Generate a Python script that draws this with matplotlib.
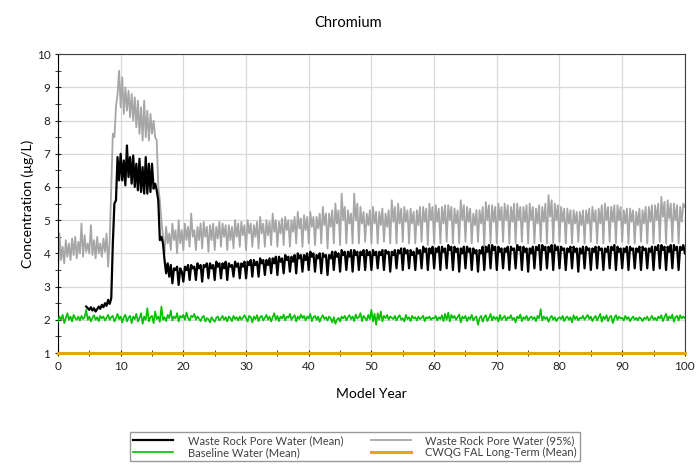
import numpy as np
import matplotlib.pyplot as plt
from matplotlib.ticker import MultipleLocator

plt.rcParams['font.family'] = ['Lato', 'DejaVu Sans']

nan = np.nan

# quarter-year steps, year 0 to 100
years = np.arange(0, 100.01, 0.25)

wr_mean = [
    nan, nan, nan, nan, nan, nan, nan, nan, nan, nan, nan, nan, nan, nan, nan, nan, nan, nan,
    2.40, 2.35, 2.30, 2.38, 2.28, 2.35, 2.25, 2.32, 2.40, 2.33, 2.45, 2.38, 2.50, 2.42, 2.60, 2.48,
    2.65, 4.30, 5.50, 5.60, 6.90, 6.20,
    7.00, 6.20, 6.80, 6.05, 7.25, 6.30, 6.90, 6.10, 6.95, 6.00, 6.70, 5.90, 6.85, 5.85, 6.60, 5.80,
    6.90, 5.80, 6.70, 5.85, 6.70, 5.95, 6.10, 5.90, 5.60, 4.40, 4.50, 4.30, 3.80, 3.40, 3.70, 3.30,
    3.65, 3.10, 3.55, 3.50, 3.60, 3.05, 3.55, 3.45,
    3.15, 3.60, 3.50, 3.65, 3.20, 3.65, 3.55, 3.60, 3.20, 3.70, 3.55, 3.65, 3.15, 3.65, 3.60, 3.70,
    3.25, 3.70, 3.55, 3.65, 3.20, 3.75, 3.60, 3.70, 3.25, 3.70, 3.55, 3.75, 3.20, 3.70, 3.60, 3.65,
    3.30, 3.75, 3.60, 3.70, 3.25, 3.70, 3.60, 3.75,
    3.25, 3.75, 3.65, 3.80, 3.30, 3.80, 3.65, 3.75, 3.30, 3.85, 3.70, 3.80, 3.35, 3.80, 3.65, 3.85,
    3.40, 3.85, 3.70, 3.90, 3.35, 3.90, 3.75, 3.85, 3.40, 3.95, 3.80, 3.90, 3.45, 3.90, 3.75, 3.95,
    3.40, 4.00, 3.85, 3.95, 3.45, 3.95, 3.80, 4.00,
    3.50, 4.05, 3.90, 4.00, 3.45, 3.95, 3.85, 4.00, 3.40, 4.00, 3.90, 3.95, 3.35, 3.95, 3.85, 4.05,
    3.50, 4.05, 3.90, 4.00, 3.45, 4.10, 3.95, 4.05, 3.50, 4.05, 3.90, 4.10, 3.45, 4.10, 3.95, 4.05,
    3.50, 4.05, 3.95, 4.10, 3.50, 4.10, 3.95, 4.05,
    3.50, 4.10, 3.95, 4.05, 3.55, 4.05, 3.95, 4.10, 3.50, 4.10, 4.00, 4.05, 3.45, 4.05, 3.95, 4.10,
    3.55, 4.10, 4.00, 4.15, 3.50, 4.15, 4.00, 4.10, 3.55, 4.10, 3.95, 4.05, 3.50, 4.15, 4.00, 4.10,
    3.55, 4.20, 4.05, 4.15, 3.50, 4.15, 4.00, 4.20,
    3.55, 4.15, 4.05, 4.20, 3.50, 4.20, 4.05, 4.15, 3.55, 4.25, 4.10, 4.20, 3.50, 4.20, 4.05, 4.15,
    3.45, 4.15, 4.00, 4.20, 3.55, 4.20, 4.05, 4.15, 3.50, 4.15, 4.00, 4.10, 3.45, 4.10, 4.00, 4.20,
    3.50, 4.20, 4.05, 4.25, 3.55, 4.25, 4.10, 4.20,
    3.50, 4.20, 4.05, 4.15, 3.55, 4.15, 4.05, 4.20, 3.50, 4.20, 4.10, 4.15, 3.55, 4.25, 4.10, 4.20,
    3.50, 4.20, 4.05, 4.15, 3.45, 4.15, 4.00, 4.20, 3.55, 4.20, 4.10, 4.25, 3.50, 4.25, 4.10, 4.20,
    3.55, 4.20, 4.05, 4.25, 3.50, 4.25, 4.10, 4.20,
    3.55, 4.20, 4.10, 4.15, 3.50, 4.15, 4.05, 4.20, 3.55, 4.20, 4.05, 4.15, 3.45, 4.15, 4.00, 4.20,
    3.55, 4.20, 4.10, 4.15, 3.50, 4.15, 4.05, 4.20, 3.55, 4.20, 4.10, 4.15, 3.50, 4.15, 4.05, 4.20,
    3.55, 4.20, 4.10, 4.25, 3.50, 4.20, 4.05, 4.15,
    3.55, 4.15, 4.05, 4.20, 3.50, 4.20, 4.10, 4.15, 3.55, 4.15, 4.05, 4.20, 3.50, 4.20, 4.10, 4.15,
    3.55, 4.15, 4.05, 4.20, 3.50, 4.20, 4.10, 4.25, 3.55, 4.25, 4.10, 4.20, 3.50, 4.20, 4.05, 4.25,
    3.55, 4.25, 4.10, 4.20, 3.50, 4.20, 4.10, 4.25,
    4.00,
]

wr_95 = [
    3.40, 4.60, 3.80, 4.20, 3.70, 4.40, 3.90, 4.30, 3.80, 4.45, 3.95, 4.50, 3.85, 4.35, 4.00, 4.90,
    3.90, 4.55, 4.05, 4.30, 4.00, 4.85, 3.95, 4.40, 3.85, 4.50, 4.00, 4.30, 3.90, 4.45, 4.05, 4.60,
    3.60, 4.40, 6.00, 7.60, 7.50, 8.40, 8.80, 9.50,
    8.40, 9.30, 8.20, 9.00, 8.30, 8.90, 8.10, 8.80, 8.00, 8.70, 7.80, 8.60, 7.60, 8.40, 7.40, 8.60,
    7.50, 8.30, 7.40, 8.20, 7.60, 8.00, 7.50, 7.40, 6.00, 5.60, 5.00, 4.50, 4.00, 4.80, 4.30, 4.60,
    4.10, 4.90, 4.40, 4.70, 4.00, 5.00, 4.30, 4.70,
    4.10, 4.90, 4.40, 4.80, 4.20, 5.20, 4.50, 4.70, 4.10, 4.80, 4.40, 4.90, 4.15, 4.95, 4.50, 4.80,
    4.05, 4.85, 4.40, 4.90, 4.10, 4.80, 4.45, 4.95, 4.20, 4.90, 4.50, 4.85, 4.10, 4.85, 4.40, 4.80,
    4.15, 5.00, 4.50, 4.90, 4.20, 4.95, 4.55, 4.85,
    4.10, 5.00, 4.60, 4.90, 4.20, 4.85, 4.50, 4.95, 4.15, 5.10, 4.60, 4.90, 4.20, 5.00, 4.55, 4.95,
    4.25, 5.20, 4.65, 5.00, 4.20, 4.95, 4.60, 5.05, 4.25, 5.10, 4.70, 5.00, 4.20, 5.00, 4.65, 5.10,
    4.30, 5.25, 4.75, 5.05, 4.20, 5.15, 4.70, 5.10,
    4.30, 5.25, 4.80, 5.10, 4.25, 5.10, 4.75, 5.20, 4.30, 5.40, 4.85, 5.20, 4.15, 5.20, 4.80, 5.30,
    4.30, 5.50, 4.90, 5.30, 4.25, 5.80, 5.00, 5.40, 4.30, 5.30, 4.90, 5.20, 4.30, 5.80, 5.00, 5.50,
    4.30, 5.40, 4.90, 5.25, 4.35, 5.20, 4.85, 5.30,
    4.30, 5.40, 4.90, 5.25, 4.30, 5.25, 4.85, 5.35, 4.35, 5.20, 4.80, 5.30, 4.30, 5.60, 4.95, 5.40,
    4.30, 5.50, 4.90, 5.35, 4.35, 5.40, 4.95, 5.30, 4.30, 5.35, 4.90, 5.25, 4.30, 5.30, 4.85, 5.40,
    4.35, 5.40, 4.95, 5.35, 4.25, 5.50, 5.00, 5.40,
    4.30, 5.45, 4.95, 5.35, 4.30, 5.40, 4.90, 5.45, 4.35, 5.45, 5.00, 5.40, 4.30, 5.35, 4.90, 5.30,
    4.30, 5.60, 5.00, 5.45, 4.35, 5.40, 4.95, 5.35, 4.30, 5.20, 4.85, 5.30, 4.35, 5.30, 4.90, 5.40,
    4.20, 5.55, 5.00, 5.45, 4.30, 5.45, 4.95, 5.40,
    4.30, 5.50, 5.00, 5.40, 4.35, 5.50, 5.00, 5.45, 4.30, 5.40, 4.95, 5.50, 4.30, 5.50, 5.00, 5.40,
    4.35, 5.40, 4.95, 5.45, 4.30, 5.50, 5.00, 5.40, 4.30, 5.35, 4.90, 5.45, 4.35, 5.40, 4.95, 5.50,
    4.30, 5.75, 5.10, 5.60, 4.30, 5.50, 5.00, 5.45,
    4.35, 5.40, 4.95, 5.35, 4.30, 5.35, 4.90, 5.30, 4.30, 5.30, 4.90, 5.25, 4.35, 5.25, 4.85, 5.30,
    4.30, 5.30, 4.90, 5.35, 4.35, 5.40, 4.95, 5.30, 4.30, 5.35, 4.90, 5.45, 4.30, 5.50, 5.00, 5.40,
    4.35, 5.40, 4.95, 5.45, 4.30, 5.45, 5.00, 5.40,
    4.35, 5.30, 4.90, 5.35, 4.30, 5.35, 4.95, 5.30, 4.30, 5.25, 4.85, 5.35, 4.35, 5.30, 4.90, 5.40,
    4.30, 5.40, 4.95, 5.45, 4.30, 5.45, 5.00, 5.50, 4.35, 5.70, 5.10, 5.55, 4.30, 5.60, 5.05, 5.50,
    4.35, 5.50, 5.00, 5.45, 4.30, 5.40, 4.95, 5.50,
    5.40,
]

baseline = [
    1.95, 2.10, 2.00, 2.15, 1.90, 2.05, 2.20, 2.00, 2.10, 1.95, 2.15, 2.05, 2.00, 2.10, 1.98, 2.12, 2.02, 2.08, 2.30, 2.00,
    2.10, 1.95, 2.06, 2.14, 2.00, 2.08, 1.96, 2.12, 2.04, 2.10, 1.98, 2.06, 2.15, 2.00, 2.08, 2.12, 1.95, 2.05, 2.18, 2.02,
    2.10, 1.92, 2.08, 2.15, 1.95, 2.06, 2.12, 1.90, 2.10, 2.02, 2.18, 1.95, 2.05, 2.20, 1.88, 2.10, 2.00, 2.35, 1.95, 2.08,
    2.12, 1.90, 2.25, 2.02, 2.10, 1.94, 2.40, 2.00, 2.08, 1.96, 2.15, 2.05, 2.28, 1.98, 2.10, 2.04, 2.20, 1.95, 2.12, 2.06,
    2.15, 2.00, 2.22, 2.05, 1.98, 2.12, 2.08, 2.18, 2.00, 2.10, 2.04, 1.96, 2.08, 2.12, 1.95, 2.05, 2.02, 1.92, 2.08, 2.00,
    1.94, 2.06, 2.10, 1.98, 2.04, 2.12, 2.00, 2.08, 1.95, 2.10, 2.05, 1.96, 2.12, 2.02, 2.08, 1.98, 2.10, 2.00, 2.06, 2.14,
    2.05, 1.95, 2.12, 2.08, 1.92, 2.10, 2.02, 2.14, 1.96, 2.08, 2.12, 1.98, 2.06, 2.15, 2.00, 2.10, 1.95, 2.08, 2.20, 2.00,
    2.12, 1.96, 2.10, 2.04, 2.16, 1.98, 2.10, 2.06, 2.18, 2.00, 2.08, 2.14, 1.95, 2.10, 2.02, 2.16, 2.05, 2.12, 1.98, 2.10,
    2.04, 2.18, 1.96, 2.08, 2.12, 2.00, 2.10, 1.94, 2.06, 2.14, 2.02, 2.08, 1.98, 2.10, 2.04, 1.92, 2.08, 1.88, 2.00, 2.06,
    1.95, 2.10, 2.04, 2.12, 1.98, 2.08, 2.14, 2.02, 2.10, 1.96, 2.16, 2.04, 2.08, 2.20, 1.96, 2.12, 2.05, 1.98, 2.15, 2.02,
    2.30, 1.95, 2.18, 1.85, 2.20, 2.00, 2.25, 1.95, 2.12, 2.05, 2.15, 2.00, 2.10, 2.06, 2.02, 2.12, 1.98, 2.08, 2.14, 2.00,
    2.05, 1.95, 2.15, 2.02, 2.08, 1.96, 2.12, 2.04, 2.08, 1.98, 2.10, 2.02, 2.06, 2.12, 1.96, 2.08, 2.04, 2.10, 2.00, 2.06,
    2.04, 2.12, 1.98, 2.08, 2.02, 2.14, 1.96, 2.18, 2.00, 2.22, 1.95, 2.15, 2.05, 2.12, 2.00, 2.08, 2.16, 1.92, 2.10, 2.04,
    2.12, 1.96, 2.08, 2.02, 2.15, 1.98, 2.06, 2.10, 1.85, 2.05, 2.12, 1.94, 2.08, 2.14, 1.96, 2.06, 2.18, 1.98, 2.10, 2.02,
    2.08, 1.95, 2.15, 2.00, 2.06, 2.12, 1.98, 2.08, 2.04, 2.14, 2.00, 2.06, 1.92, 2.10, 2.04, 2.16, 1.96, 2.08, 2.02, 2.12,
    1.98, 2.06, 2.10, 2.02, 2.08, 1.96, 2.12, 2.04, 2.32, 1.98, 2.10, 2.02, 2.08, 1.94, 2.06, 2.12, 2.00, 2.08, 1.96, 2.04,
    2.08, 2.02, 2.12, 1.96, 2.06, 2.10, 2.00, 2.08, 1.92, 2.14, 2.02, 2.10, 1.98, 2.06, 2.04, 2.12, 2.00, 2.08, 2.15, 2.02,
    2.10, 1.96, 2.06, 2.12, 1.98, 2.08, 2.18, 1.94, 2.10, 2.02, 2.14, 1.96, 2.08, 2.12, 1.90, 2.06, 2.14, 2.00, 2.10, 2.04,
    2.06, 1.98, 2.12, 2.02, 2.08, 1.96, 2.04, 2.10, 2.00, 2.06, 1.98, 2.08, 2.04, 1.96, 2.06, 2.02, 2.10, 1.98, 2.04, 2.12,
    2.00, 2.06, 1.98, 2.10, 2.04, 2.14, 1.96, 2.08, 2.18, 1.98, 2.10, 2.04, 2.16, 1.94, 2.08, 2.12, 1.98, 2.14, 2.04, 2.10,
    2.05,
]

cwqg_years = [0, 100]
cwqg = [1.0, 1.0]

fig = plt.figure(figsize=(6.96, 4.71), dpi=100)
ax = fig.add_axes([0.0833, 0.2505, 0.9007, 0.6345])

ax.plot(years, baseline, color='#00c000', lw=1.2, label='Baseline Water (Mean)', zorder=3)
ax.plot(years, wr_95, color='#a6a6a6', lw=1.3, label='Waste Rock Pore Water (95%)', zorder=2)
ax.plot(years, wr_mean, color='black', lw=1.6, label='Waste Rock Pore Water (Mean)', zorder=4)
ax.plot(cwqg_years, cwqg, color='#e8a317', lw=2.2, label='CWQG FAL Long-Term (Mean)', zorder=5, clip_on=False)

ax.set_xlim(0, 100)
ax.set_ylim(1, 10)
ax.xaxis.set_major_locator(MultipleLocator(10))
ax.xaxis.set_minor_locator(MultipleLocator(5))
ax.yaxis.set_major_locator(MultipleLocator(1))
ax.yaxis.set_minor_locator(MultipleLocator(0.5))
ax.grid(True, which='major', color='#d9d9d9', lw=0.9)
ax.set_axisbelow(True)
ax.tick_params(which='both', direction='inout', length=4, labelsize=8.5,
               color='#222222', labelcolor='#222222')
for s in ax.spines.values():
    s.set_color('#404040')
ax.spines['left'].set_color('black')

ax.set_xlabel('Model Year', fontsize=10, labelpad=12)
ax.set_ylabel('Concentration (µg/L)', fontsize=10, labelpad=2)
fig.suptitle('Chromium', y=0.965, fontsize=10.5)

h, l = ax.get_legend_handles_labels()
order = [2, 0, 1, 3]
leg = fig.legend([h[i] for i in order], [l[i] for i in order], ncol=2, loc='center',
                 bbox_to_anchor=(0.51, 0.052), fontsize=8, frameon=True, fancybox=False,
                 handlelength=3.6, columnspacing=2.5, handletextpad=1.3, borderpad=0.25,
                 labelspacing=0.1, edgecolor='#808080')
leg.get_frame().set_linewidth(1.0)
for t in leg.get_texts():
    t.set_color('#404040')

fig.savefig('out.png', dpi=100)
